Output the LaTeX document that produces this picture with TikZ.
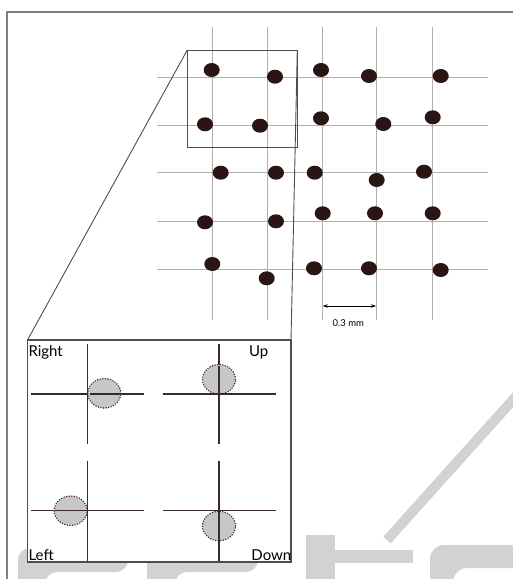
\documentclass[tikz,border=0pt]{standalone}
\usepackage{fontspec}
\setmainfont{Lato}
\usetikzlibrary{shapes.geometric,arrows.meta}
\definecolor{dotc}{HTML}{2B1414}
\definecolor{gridc}{HTML}{B0B0B0}
\definecolor{slate}{HTML}{44524F}
\definecolor{crossc}{HTML}{3A2A2A}
\definecolor{wmark}{HTML}{D2D2D2}
\definecolor{framec}{HTML}{808080}
\tikzset{
  dot/.style={ellipse,fill=dotc,draw=none,minimum width=16,minimum height=14,inner sep=0},
  gridline/.style={draw=gridc,line width=0.9},
  crossline/.style={draw=crossc,line width=1.4},
  shifted/.style={ellipse,fill=black!22,draw=crossc,line cap=round,dash pattern=on 0pt off 2.6pt,line width=1.6,minimum width=33,minimum height=29.5,inner sep=0},
  lbl/.style={font=\fontsize{15}{15}\selectfont,text=black,inner sep=0},
  zoomline/.style={draw=slate,line width=0.9},
}
\begin{document}
\begin{tikzpicture}[x=1pt,y=-1pt]
\useasboundingbox (0,0) rectangle (513,579);
\clip (0,0) rectangle (513,579);
% outer frame
\draw[framec,line width=2.2] (7.3,585) -- (7.3,12.3) -- (520,12.3);
% watermark
\begin{scope}[wmark]
\fill[rounded corners=12] (18,590) -- (18,548) -- (128,548) -- (128,572) -- (45,572) -- (45,590) -- cycle;
\fill[rounded corners=12] (147,590) -- (147,548) -- (258,548) -- (258,572) -- (175,572) -- (175,590) -- cycle;
\fill (306,535) rectangle (335,590);
\fill (335,550) rectangle (413,563);
\fill[rounded corners=14] (430,590) -- (430,545) -- (525,545) -- (525,568) -- (453,568) -- (453,590) -- cycle;
\draw[line width=10] (387,540) -- (520,392);
\end{scope}
% grid
\foreach \x in {212.7,267.3,322.3,376.7,432.7} \draw[gridline] (\x,26.7) -- (\x,320);
\foreach \y in {77.3,125.3,172.7,221.3,269.3} \draw[gridline] (156.7,\y) -- (488,\y);
% dots
\node[dot] (d11) at (211.7,70) {};
\node[dot] (d12) at (275,76.7) {};
\node[dot] (d13) at (321,70) {};
\node[dot] (d14) at (369,76) {};
\node[dot] (d15) at (440.7,76) {};
\node[dot] (d21) at (205,124.3) {};
\node[dot] (d22) at (260,125.7) {};
\node[dot] (d23) at (321,118.3) {};
\node[dot] (d24) at (383.3,124) {};
\node[dot] (d25) at (432.7,117.3) {};
\node[dot] (d31) at (220.7,172.7) {};
\node[dot] (d32) at (276,172.7) {};
\node[dot] (d33) at (314.7,172.7) {};
\node[dot] (d34) at (376.7,180) {};
\node[dot] (d35) at (424,171.7) {};
\node[dot] (d41) at (205,222.3) {};
\node[dot] (d42) at (276,221.3) {};
\node[dot] (d43) at (322.7,213.3) {};
\node[dot] (d44) at (375,213.3) {};
\node[dot] (d45) at (432.7,213.3) {};
\node[dot] (d51) at (212.3,264) {};
\node[dot] (d52) at (266.7,278.3) {};
\node[dot] (d53) at (314,268.3) {};
\node[dot] (d54) at (369,268.3) {};
\node[dot] (d55) at (440.7,270) {};
% zoom box
\node[draw=slate,line width=0.9,minimum width=110,minimum height=97.3,inner sep=0,outer sep=0] (zoombox) at (242.3,98.65) {};
% inset
\node[draw=slate,line width=1.6,fill=white,minimum width=263.5,minimum height=222,inner sep=0,outer sep=0] (inset) at (159.25,451) {};
\draw[zoomline] (zoombox.north west) -- (inset.north west);
\draw[zoomline] (zoombox.north east) -- (inset.north east);
% crosses
\draw[crossline] (87.7,344) -- (87.7,444);
\draw[crossline] (31,394) -- (144,394);
\draw[crossline] (219,344) -- (219,444);
\draw[crossline] (162.7,394) -- (275.7,394);
\draw[crossline] (87.7,460.7) -- (87.7,560.7);
\draw[crossline] (31,510.7) -- (144,510.7);
\draw[crossline] (219,460.7) -- (219,560.7);
\draw[crossline] (162.7,510.7) -- (275.7,510.7);
% shifted dots
\node[shifted] (eright) at (104.3,393.3) {};
\node[shifted] (eup) at (219,379.3) {};
\node[shifted] (eleft) at (70.7,510.7) {};
\node[shifted] (edown) at (219,526) {};
\draw[crossline] (87.7,380) -- (87.7,408);
\draw[crossline] (90,394) -- (120,394);
\draw[crossline] (219,366) -- (219,394);
\draw[crossline] (205,394) -- (233,394);
\draw[crossline] (87.7,497) -- (87.7,525);
\draw[crossline] (55,510.7) -- (87.7,510.7);
\draw[crossline] (219,510.7) -- (219,541);
\draw[crossline] (205,510.7) -- (233,510.7);
% labels
\node[lbl,anchor=base west] (lright) at (28.3,356.5) {Right};
\node[lbl,anchor=base east] (lup) at (268.5,356.5) {Up};
\node[lbl,anchor=base west] (lleft) at (28.3,560) {Left};
\node[lbl,anchor=base east] (ldown) at (291.5,560) {Down};
% scale bar
\coordinate (sa) at (322.7,306);
\coordinate (sb) at (376,306);
\draw[black,line width=0.8,{Stealth[length=5,width=3.5]}-{Stealth[length=5,width=3.5]}] (sa) -- (sb);
\node[font=\fontsize{9.5}{9.5}\selectfont,inner sep=0] (scl) at (348.3,323.3) {0.3 mm};
\end{tikzpicture}
\end{document}
